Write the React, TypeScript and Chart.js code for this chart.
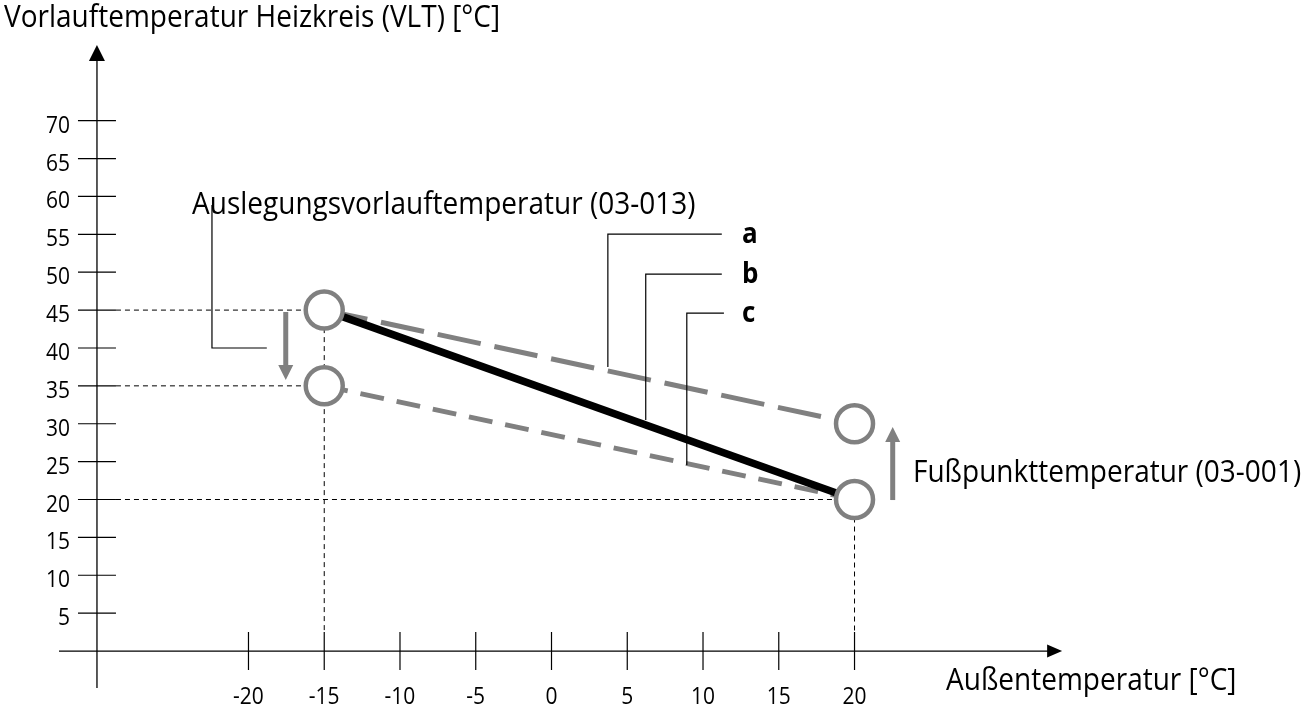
import { useEffect, useRef } from "react";
import { Chart, registerables } from "chart.js";

Chart.register(...registerables);

// ---- data ----
const outdoorTemps = [-15, 20]; // Außentemperatur at design point / foot point
const curveA = [45, 30]; // a: raised foot point
const curveB = [45, 20]; // b: base heating curve
const curveC = [35, 20]; // c: lowered design flow temperature
const xTickValues = [-20, -15, -10, -5, 0, 5, 10, 15, 20];
const yTickValues = [5, 10, 15, 20, 25, 30, 35, 40, 45, 50, 55, 60, 65, 70];
const curveLabels = ["a", "b", "c"];
const yAxisTitle = "Vorlauftemperatur Heizkreis (VLT) [°C]";
const xAxisTitle = "Außentemperatur [°C]";
const designLabel = "Auslegungsvorlauftemperatur (03-013)";
const footLabel = "Fußpunkttemperatur (03-001)";

const GRAY = "#808080";
const FONT = '"Open Sans", sans-serif';

const toPoints = (ys: number[]) => outdoorTemps.map((x, i) => ({ x, y: ys[i] }));

const drawText = (ctx: CanvasRenderingContext2D, text: string, x: number, y: number, sy = 1.08) => {
  ctx.save();
  ctx.translate(x, y);
  ctx.scale(1, sy);
  ctx.fillText(text, 0, 0);
  ctx.restore();
};

const diagramPlugin = {
  id: "diagram",
  beforeDatasetsDraw(chart: any) {
    const ctx: CanvasRenderingContext2D = chart.ctx;
    const X = (v: number) => chart.scales.x.getPixelForValue(v);
    const Y = (v: number) => chart.scales.y.getPixelForValue(v);
    const ax = X(-30);
    const ay = Y(0);
    const th = 19;
    ctx.save();
    // dotted guide lines
    ctx.strokeStyle = "#000";
    ctx.lineWidth = 1;
    ctx.setLineDash([5, 4]);
    const guidesH = [
      { y: curveB[0], x: outdoorTemps[0] },
      { y: curveC[0], x: outdoorTemps[0] },
      { y: curveB[1], x: outdoorTemps[1] },
    ];
    guidesH.forEach((g) => {
      ctx.beginPath();
      ctx.moveTo(ax + th, Y(g.y));
      ctx.lineTo(X(g.x), Y(g.y));
      ctx.stroke();
    });
    const guidesV = [
      { x: outdoorTemps[0], y: curveB[0] },
      { x: outdoorTemps[1], y: curveB[1] },
    ];
    guidesV.forEach((g) => {
      ctx.beginPath();
      ctx.moveTo(X(g.x), Y(g.y));
      ctx.lineTo(X(g.x), ay - th);
      ctx.stroke();
    });
    ctx.setLineDash([]);

    // axes
    ctx.strokeStyle = "#000";
    ctx.fillStyle = "#000";
    ctx.lineWidth = 1.3;
    const yTip = Y(80);
    ctx.beginPath();
    ctx.moveTo(ax, ay + 37);
    ctx.lineTo(ax, yTip + 10);
    ctx.stroke();
    ctx.beginPath();
    ctx.moveTo(ax, yTip);
    ctx.lineTo(ax - 8, yTip + 16);
    ctx.lineTo(ax + 8, yTip + 16);
    ctx.closePath();
    ctx.fill();
    const xTip = X(33.7);
    ctx.beginPath();
    ctx.moveTo(ax - 38, ay);
    ctx.lineTo(xTip - 8, ay);
    ctx.stroke();
    ctx.beginPath();
    ctx.moveTo(xTip, ay);
    ctx.lineTo(xTip - 15, ay - 6.5);
    ctx.lineTo(xTip - 15, ay + 6.5);
    ctx.closePath();
    ctx.fill();

    // ticks
    ctx.lineWidth = 1.2;
    yTickValues.forEach((v) => {
      ctx.beginPath();
      ctx.moveTo(ax - th, Y(v));
      ctx.lineTo(ax + th, Y(v));
      ctx.stroke();
    });
    xTickValues.forEach((v) => {
      ctx.beginPath();
      ctx.moveTo(X(v), ay - th);
      ctx.lineTo(X(v), ay + th);
      ctx.stroke();
    });

    // tick labels
    ctx.font = `21px ${FONT}`;
    ctx.textBaseline = "alphabetic";
    ctx.textAlign = "right";
    yTickValues.forEach((v) => drawText(ctx, String(v), ax - 27, Y(v) + 12, 1.1));
    ctx.textAlign = "center";
    xTickValues.forEach((v) => drawText(ctx, String(v), X(v), 704, 1.1));
    ctx.restore();
  },
  afterDatasetsDraw(chart: any) {
    const ctx: CanvasRenderingContext2D = chart.ctx;
    const X = (v: number) => chart.scales.x.getPixelForValue(v);
    const Y = (v: number) => chart.scales.y.getPixelForValue(v);
    ctx.save();
    // leader lines
    ctx.strokeStyle = "#000";
    ctx.lineWidth = 1.2;
    const leaders: [number, number][][] = [
      [[-22.41, 58.87], [-22.41, 40.0], [-18.79, 40.0]],
      [[11.24, 55.04], [3.72, 55.04], [3.72, 37.49]],
      [[11.24, 49.76], [6.22, 49.76], [6.22, 30.49]],
      [[11.38, 44.61], [8.93, 44.61], [8.93, 24.55]],
    ];
    leaders.forEach((pts) => {
      ctx.beginPath();
      pts.forEach(([x, y], i) => (i ? ctx.lineTo(X(x), Y(y)) : ctx.moveTo(X(x), Y(y))));
      ctx.stroke();
    });

    // gray arrows
    const arrow = (x: number, y0: number, y1: number) => {
      const px = X(x);
      const p0 = Y(y0);
      const p1 = Y(y1);
      const dir = p1 > p0 ? 1 : -1;
      ctx.strokeStyle = GRAY;
      ctx.fillStyle = GRAY;
      ctx.lineWidth = 5;
      ctx.beginPath();
      ctx.moveTo(px, p0);
      ctx.lineTo(px, p1 - dir * 12);
      ctx.stroke();
      ctx.beginPath();
      ctx.moveTo(px, p1);
      ctx.lineTo(px - 7.5, p1 - dir * 15);
      ctx.lineTo(px + 7.5, p1 - dir * 15);
      ctx.closePath();
      ctx.fill();
    };
    arrow(-17.54, 44.75, 35.77);
    arrow(22.52, 19.93, 29.57);

    // texts
    ctx.fillStyle = "#000";
    ctx.textAlign = "left";
    ctx.textBaseline = "alphabetic";
    ctx.font = `28px ${FONT}`;
    drawText(ctx, yAxisTitle, 4, 27);
    drawText(ctx, designLabel, 192, 214);
    drawText(ctx, footLabel, 913, 482);
    drawText(ctx, xAxisTitle, 946, 690);
    ctx.font = `bold 26px ${FONT}`;
    const labelYs = [55.04, 49.76, 44.61];
    curveLabels.forEach((l, i) => drawText(ctx, l, 742, Y(labelYs[i]) + 9));
    ctx.restore();
  },
};

export default function App() {
  const canvasRef = useRef<HTMLCanvasElement | null>(null);

  useEffect(() => {
    if (!canvasRef.current) return;
    const chart = new Chart(canvasRef.current, {
      type: "scatter",
      data: {
        datasets: [
          {
            label: "points",
            data: [...toPoints(curveA), ...toPoints(curveC)],
            showLine: false,
            pointRadius: 18.5,
            pointHoverRadius: 18.5,
            pointBorderWidth: 4.5,
            pointBackgroundColor: "#ffffff",
            pointBorderColor: GRAY,
            clip: false,
            order: 0,
          } as any,
          {
            label: "b",
            data: toPoints(curveB),
            showLine: true,
            borderColor: "#000000",
            borderWidth: 7.5,
            pointRadius: 0,
            clip: false,
            order: 1,
          },
          {
            label: "a",
            data: toPoints(curveA),
            showLine: true,
            borderColor: GRAY,
            borderWidth: 5,
            borderDash: [44, 14],
            pointRadius: 0,
            clip: false,
            order: 2,
          },
          {
            label: "c",
            data: toPoints(curveC),
            showLine: true,
            borderColor: GRAY,
            borderWidth: 5,
            borderDash: [24, 13],
            pointRadius: 0,
            clip: false,
            order: 3,
          },
        ],
      },
      options: {
        animation: false,
        responsive: false,
        events: [],
        layout: { padding: 0, autoPadding: false },
        plugins: { legend: { display: false }, tooltip: { enabled: false } },
        scales: {
          x: { type: "linear", min: -36.4, max: 49.6, display: false },
          y: { type: "linear", min: -7.52, max: 85.93, display: false },
        },
      },
      plugins: [diagramPlugin],
    });
    return () => chart.destroy();
  }, []);

  return (
    <div style={{ position: "fixed", left: 0, top: 0, width: 1303, height: 708, background: "#fff" }}>
      <canvas ref={canvasRef} width={1303} height={708} style={{ display: "block" }} />
    </div>
  );
}
